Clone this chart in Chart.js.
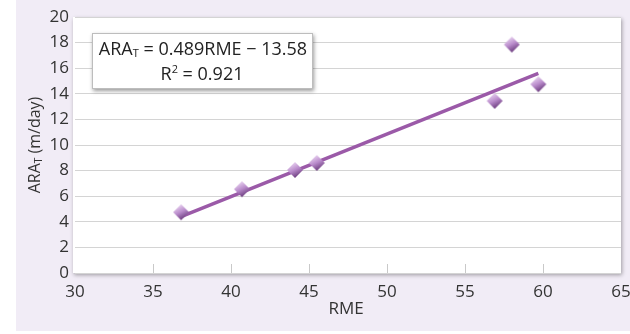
<!DOCTYPE html>
<html>
<head>
<meta charset="utf-8">
<script src="https://cdn.jsdelivr.net/npm/chart.js@4"></script>
<style>
  html, body { margin: 0; padding: 0; background: #ffffff; }
  #wrap { position: relative; width: 630px; height: 334px; }
</style>
</head>
<body>
<div id="wrap"><canvas id="chart" width="630" height="334"></canvas></div>
<script>
  // measured points (RME vs ARA_T)
  const rmeValues = [36.8, 40.7, 44.1, 45.5, 56.9, 58.0, 59.7];
  const araValues = [4.75, 6.55, 8.05, 8.6, 13.45, 17.85, 14.75];
  // fitted line endpoints as drawn
  const trendX = [36.8, 59.7];
  const trendY = [4.4, 15.6];
  const xTicks = [30, 35, 40, 45, 50, 55, 60, 65];
  const yTicks = [0, 2, 4, 6, 8, 10, 12, 14, 16, 18, 20];

  const FONT = "'Open Sans', 'Liberation Sans', sans-serif";

  // diamond marker with a bevelled purple look
  function makeDiamond(r) {
    const c = document.createElement("canvas");
    const s = r * 2 + 2;
    c.width = s; c.height = s;
    const g = c.getContext("2d");
    const m = s / 2;
    g.beginPath();
    g.moveTo(m - r, m); g.lineTo(m, m - r); g.lineTo(m + r, m); g.lineTo(m, m + r);
    g.closePath();
    const grad = g.createLinearGradient(m - r * 0.5, m - r * 0.8, m + r * 0.4, m + r);
    grad.addColorStop(0, "#e8d2f0");
    grad.addColorStop(0.45, "#b98bcb");
    grad.addColorStop(1, "#5e2f70");
    g.fillStyle = grad;
    g.fill();
    return c;
  }
  const diamond = makeDiamond(8);

  // draws text with a small sub/superscript part: parts = [[text, size, dy], ...]
  function richText(ctx, parts, x, y, align) {
    let total = 0;
    parts.forEach(p => { ctx.font = p[1] + "px " + FONT; total += ctx.measureText(p[0]).width; });
    let cx = align === "center" ? x - total / 2 : x;
    ctx.textAlign = "left";
    parts.forEach(p => {
      ctx.font = p[1] + "px " + FONT;
      ctx.fillText(p[0], cx, y + p[2]);
      cx += ctx.measureText(p[0]).width;
    });
  }

  const backdrop = {
    id: "backdrop",
    beforeDraw(chart) {
      const { ctx, chartArea: a } = chart;
      ctx.save();
      ctx.fillStyle = "#ffffff";
      ctx.fillRect(0, 0, chart.width, chart.height);
      ctx.fillStyle = "#f1ecf6";
      ctx.fillRect(16, 0, chart.width - 16, 331);
      // plot area with soft shadow
      ctx.shadowColor = "rgba(0,0,0,0.35)";
      ctx.shadowBlur = 4;
      ctx.shadowOffsetX = 1;
      ctx.shadowOffsetY = 2;
      ctx.fillStyle = "#ffffff";
      ctx.fillRect(a.left - 2, a.top, a.right - a.left + 2, a.bottom - a.top);
      ctx.restore();
    },
    afterDraw(chart) {
      const { ctx, chartArea: a, scales } = chart;
      ctx.save();
      // small vertical ticks at the bottom
      ctx.strokeStyle = "#c9c9c9";
      ctx.lineWidth = 1;
      xTicks.slice(1, -1).forEach(v => {
        const px = Math.round(scales.x.getPixelForValue(v)) + 0.5;
        ctx.beginPath(); ctx.moveTo(px, a.bottom); ctx.lineTo(px, a.bottom - 9); ctx.stroke();
      });
      // equation box
      ctx.shadowColor = "rgba(0,0,0,0.4)";
      ctx.shadowBlur = 4;
      ctx.shadowOffsetX = 1;
      ctx.shadowOffsetY = 2;
      ctx.fillStyle = "#ffffff";
      ctx.fillRect(92, 33, 221, 56);
      ctx.shadowColor = "transparent";
      ctx.strokeStyle = "#bdbdbd";
      ctx.strokeRect(92.5, 33.5, 220, 55);
      ctx.fillStyle = "#222222";
      ctx.textBaseline = "alphabetic";
      richText(ctx, [["ARA", 18, 0], ["T", 11, 2], [" = 0.489RME \u2212 13.58", 18, 0]], 203, 55, "center");
      richText(ctx, [["R", 18, 0], ["2", 11, -7], [" = 0.921", 18, 0]], 202, 80, "center");
      // axis titles
      ctx.fillStyle = "#333333";
      richText(ctx, [["RME", 17, 0]], 346, 314, "center");
      ctx.translate(40, 145);
      ctx.rotate(-Math.PI / 2);
      richText(ctx, [["ARA", 16, 0], ["T", 10, 2], [" (m/day)", 16, 0]], 0, 0, "center");
      ctx.restore();
    }
  };

  new Chart(document.getElementById("chart"), {
    type: "scatter",
    data: {
      datasets: [
        {
          label: "Trend",
          data: trendX.map((x, i) => ({ x, y: trendY[i] })),
          showLine: true,
          borderColor: "#9b5aa8",
          borderWidth: 3.5,
          pointRadius: 0,
          order: 2
        },
        {
          label: "ARA_T",
          data: rmeValues.map((x, i) => ({ x, y: araValues[i] })),
          pointStyle: diamond,
          pointRadius: 8,
          order: 1
        }
      ]
    },
    options: {
      responsive: false,
      animation: false,
      layout: { padding: { top: 17, right: 5, left: 0, bottom: 0 } },
      plugins: { legend: { display: false }, tooltip: { enabled: false } },
      scales: {
        x: {
          type: "linear", min: 30, max: 65,
          afterBuildTicks: s => { s.ticks = xTicks.map(v => ({ value: v })); },
          afterFit: s => { s.height = 61; s.paddingLeft = 0; s.paddingRight = 0; },
          grid: { display: false },
          border: { display: false },
          ticks: { color: "#333333", font: { family: FONT, size: 17 }, padding: 1, maxRotation: 0 }
        },
        y: {
          type: "linear", min: 0, max: 20,
          afterBuildTicks: s => { s.ticks = yTicks.map(v => ({ value: v })); },
          afterFit: s => { s.width = 75; s.paddingTop = 0; s.paddingBottom = 0; },
          grid: { color: "#d4d4d4", lineWidth: 1, drawTicks: false },
          border: { display: false },
          ticks: { color: "#333333", font: { family: FONT, size: 17 }, padding: 6 }
        }
      }
    },
    plugins: [backdrop]
  });
</script>
</body>
</html>
